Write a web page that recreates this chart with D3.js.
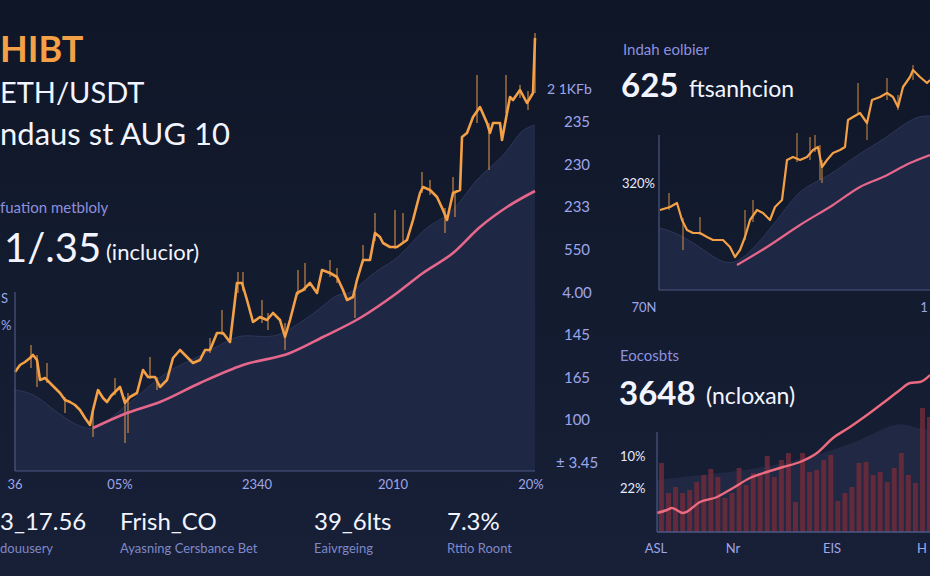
<!DOCTYPE html>
<html><head><meta charset="utf-8">
<script src="https://cdn.jsdelivr.net/npm/d3@7/dist/d3.min.js"></script>
<style>html,body{margin:0;padding:0;background:#121a2d;overflow:hidden}svg{display:block}</style>
</head><body>
<script>
// ---------- DATA ----------
// Main chart (ETH/USDT) – time index vs price units
const mainDays  = [0,5,10,15,18,22,25,30,35,40,45,50,55,60,65,70,75,78,83,88,92,96,100,105,110,115,122,128,133,140,145,152,158,165,172,178,185,190,195,202,208,215,220,222,227,232,238,245,252,258,265,270,275,282,288,295,302,307,315,322,328,332,338,342,348,355,360,365,368,375,382,392,398,405,408,415,422,428,432,438,445,447,452,458,465,472,475,478,485,487,492,495,498,505,512,518,520];
const mainClose = [91,98,101,105,108,103,83,85,80,75,70,63,61,58,53,45,38,53,73,65,61,67,71,76,60,66,70,93,86,86,76,83,105,113,106,100,103,113,113,130,130,121,163,180,180,163,141,146,143,150,143,126,143,170,173,180,170,193,190,186,173,163,166,183,203,203,230,226,220,216,216,223,243,270,276,273,266,253,243,270,273,326,330,346,356,340,330,340,340,323,350,366,363,373,360,370,425];
const mainWicks = [[16,118,95],[22,108,76],[32,100,80],[50,66,50],[78,55,26],[100,85,68],[110,66,20],[113,70,30],[135,106,84],[142,86,73],[195,125,110],[207,153,128],[223,191,170],[228,191,172],[247,163,140],[253,150,133],[270,140,113],[283,193,168],[290,200,172],[315,203,186],[322,195,180],[340,170,145],[348,218,200],[360,250,222],[380,253,214],[388,250,220],[407,291,270],[415,283,268],[430,255,230],[438,286,266],[440,270,246],[462,388,340],[474,340,293],[491,388,350],[505,378,365],[513,372,353],[520,430,370]];
const mainBandDays = [0,18,35,52,72,85,105,125,152,185,218,232,258,275,308,322,335,348,365,382,405,418,438,458,472,492,505,520];
const mainBand     = [73,70,56,43,33,35,53,68,93,106,126,128,125,133,156,170,168,181,195,203,230,240,250,280,293,310,333,338];
const mainMADays = [78,112,145,185,228,275,308,345,382,408,438,465,492,520];
const mainMA     = [35,50,61,80,98,110,126,145,170,190,210,236,256,272];
const mainTickDays   = [0,105,242,378,516];
const mainTickLabels = ["36","05%","2340","2010","20%"];
const rightAxisLabels = ["235","230","233","550","4.00","145","165","100","± 3.45"];
const priceTag = "2 1KFb";

// Top-right chart
const trDays  = [1,11,18,23,28,34,41,48,54,64,71,76,81,86,91,98,104,111,116,123,128,134,141,148,154,159,163,168,174,181,186,189,194,201,208,213,221,228,234,239,244,251,254,261,268,271];
const trClose = [80,83,87,70,60,57,57,53,50,50,43,33,40,53,70,80,77,70,83,90,130,133,130,133,140,143,123,130,137,140,143,170,173,177,167,190,193,197,193,183,203,213,220,213,207,210];
const trWicks = [[10,97,80],[24,72,40],[41,73,55],[86,80,50],[94,90,68],[138,157,128],[151,153,130],[156,155,138],[161,145,110],[163,130,107],[199,207,175],[208,170,150],[228,212,190],[239,195,180],[254,225,210]];
const trBandDays = [1,18,41,58,78,108,128,141,161,174,201,224,241,258,271];
const trBand     = [62,57,43,30,23,57,83,100,110,117,137,150,163,174,174];
const trMADays = [78,108,141,174,201,224,251,271];
const trMA     = [25,43,65,85,103,113,127,135];
const trYLabel = "320%";
const trXLabels = ["70N","1"];

// Bottom-right chart
const brBars = [69,39,45,39,42,50,57,63,55,34,39,64,47,59,59,76,55,72,79,30,79,60,62,72,77,31,39,45,69,70,57,60,50,64,79,57,49,124,115];
const brLineDays = [0,10,15,26,43,60,76,93,110,126,143,160,176,193,210,226,243,253,263,273];
const brLine     = [19,22,24,19,30,35,44,54,60,65,70,79,94,105,117,129,142,149,150,157];
const brShadeDays = [0,43,93,143,193,223,243,258,273];
const brShade     = [52,57,62,72,87,102,110,104,102];
const brYLabels = ["10%","22%"];
const brXLabels = ["ASL","Nr","EIS","H"];

// Text blocks
const stats = [["3_17.56","douusery"],["Frish_CO","Ayasning Cersbance Bet"],["39_6lts","Eaivrgeing"],["7.3%","Rttio Roont"]];

// ---------- DRAW ----------
const W=930,H=576;
const svg=d3.select("body").append("svg").attr("width",W).attr("height",H);
const defs=svg.append("defs");
const bg=defs.append("linearGradient").attr("id","bg").attr("x1",0).attr("y1",0).attr("x2",0).attr("y2",1);
bg.append("stop").attr("offset","0%").attr("stop-color","#0f1627");
bg.append("stop").attr("offset","100%").attr("stop-color","#172037");
svg.append("rect").attr("width",W).attr("height",H).attr("fill","url(#bg)");

const FONT="Lato, 'Open Sans', sans-serif";
const ORANGE="#f4a047", PINK="#e6678c", LAV="#8d90df", TICK="#9ea6ea", AXIS="#4d5784", SHADE="#1e2743";

function text(x,y,s,o){
  const t=svg.append("text").attr("x",x).attr("y",y).text(s)
   .attr("font-family",FONT).attr("font-size",o.size).attr("fill",o.fill||"#f2f4ff")
   .attr("font-weight",o.weight||400);
  if(o.anchor) t.attr("text-anchor",o.anchor);
  return t;
}

// ===== Main chart =====
const mx=d3.scaleLinear().domain([0,520]).range([15,535]);
const my=d3.scaleLinear().domain([0,430]).range([463,33]);
const mBase=471;
const mg=svg.append("g");
const bandPts=mainBandDays.map((d,i)=>[d,mainBand[i]]);
mg.append("path").datum(bandPts)
 .attr("d",d3.area().x(d=>mx(d[0])).y0(mBase).y1(d=>my(d[1])).curve(d3.curveBasis))
 .attr("fill",SHADE);
mg.append("path").datum(bandPts)
 .attr("d",d3.line().x(d=>mx(d[0])).y(d=>my(d[1])).curve(d3.curveBasis))
 .attr("fill","none").attr("stroke","#323c60").attr("stroke-width",0.8);
mg.selectAll(".mw").data(mainWicks).enter().append("line")
 .attr("x1",d=>mx(d[0])).attr("x2",d=>mx(d[0])).attr("y1",d=>my(d[1])).attr("y2",d=>my(d[2]))
 .attr("stroke","#e69a4c").attr("stroke-width",1.2).attr("opacity",0.85);
mg.append("path").datum(mainDays.map((d,i)=>[d,mainClose[i]]))
 .attr("d",d3.line().x(d=>mx(d[0])).y(d=>my(d[1])))
 .attr("fill","none").attr("stroke",ORANGE).attr("stroke-width",2.6).attr("stroke-linejoin","round");
mg.append("path").datum(mainMADays.map((d,i)=>[d,mainMA[i]]))
 .attr("d",d3.line().x(d=>mx(d[0])).y(d=>my(d[1])).curve(d3.curveMonotoneX))
 .attr("fill","none").attr("stroke",PINK).attr("stroke-width",2.6);
mg.append("line").attr("x1",15).attr("x2",15).attr("y1",292).attr("y2",mBase).attr("stroke",AXIS).attr("stroke-width",1.2);
mg.append("line").attr("x1",15).attr("x2",535).attr("y1",mBase).attr("y2",mBase).attr("stroke",AXIS).attr("stroke-width",1.2);
mainTickDays.forEach((d,i)=>text(mx(d),489,mainTickLabels[i],{size:13,fill:TICK,anchor:"middle"}));
const ry=d3.scalePoint().domain(rightAxisLabels).range([122,463]);
rightAxisLabels.forEach(l=>text(577,ry(l)+5,l,{size:15,fill:TICK,anchor:"middle"}));
text(547,my(mainClose[mainClose.length-2])+1,priceTag,{size:14,fill:TICK});
text(1,303,"S",{size:13,fill:TICK});
text(1,330,"%",{size:13,fill:TICK});

// ===== Top-right chart =====
const tx=d3.scaleLinear().domain([0,271]).range([659,930]);
const ty=d3.scaleLinear().domain([0,155]).range([290,135]);
const tg=svg.append("g");
const trBandPts=trBandDays.map((d,i)=>[d,trBand[i]]);
tg.append("path").datum(trBandPts)
 .attr("d",d3.area().x(d=>tx(d[0])).y0(290).y1(d=>ty(d[1])).curve(d3.curveBasis)).attr("fill",SHADE);
tg.append("path").datum(trBandPts)
 .attr("d",d3.line().x(d=>tx(d[0])).y(d=>ty(d[1])).curve(d3.curveBasis))
 .attr("fill","none").attr("stroke","#323c60").attr("stroke-width",0.8);
tg.selectAll(".tw").data(trWicks).enter().append("line")
 .attr("x1",d=>tx(d[0])).attr("x2",d=>tx(d[0])).attr("y1",d=>ty(d[1])).attr("y2",d=>ty(d[2]))
 .attr("stroke","#e69a4c").attr("stroke-width",1.1).attr("opacity",0.85);
tg.append("path").datum(trDays.map((d,i)=>[d,trClose[i]]))
 .attr("d",d3.line().x(d=>tx(d[0])).y(d=>ty(d[1])))
 .attr("fill","none").attr("stroke",ORANGE).attr("stroke-width",2.2).attr("stroke-linejoin","round");
tg.append("path").datum(trMADays.map((d,i)=>[d,trMA[i]]))
 .attr("d",d3.line().x(d=>tx(d[0])).y(d=>ty(d[1])).curve(d3.curveMonotoneX))
 .attr("fill","none").attr("stroke",PINK).attr("stroke-width",2.2);
tg.append("line").attr("x1",659).attr("x2",659).attr("y1",135).attr("y2",290).attr("stroke",AXIS).attr("stroke-width",1.2);
tg.append("line").attr("x1",659).attr("x2",930).attr("y1",290).attr("y2",290).attr("stroke",AXIS).attr("stroke-width",1.2);
text(622,188,trYLabel,{size:13,fill:"#e8eaff"});
text(644,312,trXLabels[0],{size:13,fill:TICK,anchor:"middle"});
text(924,312,trXLabels[1],{size:13,fill:TICK,anchor:"middle"});

// ===== Bottom-right chart =====
const bx=d3.scaleBand().domain(d3.range(brBars.length)).range([659,932]).paddingInner(0.3);
const by=d3.scaleLinear().domain([0,100]).range([532,432]);
const lx=d3.scaleLinear().domain([0,273]).range([657,930]);
const bgp=svg.append("g");
bgp.append("path").datum(brShadeDays.map((d,i)=>[d,brShade[i]]))
 .attr("d",d3.area().x(d=>lx(d[0])).y0(532).y1(d=>by(d[1])).curve(d3.curveBasis))
 .attr("fill","#2a3150").attr("opacity",0.55);
bgp.selectAll(".bar").data(brBars).enter().append("rect")
 .attr("x",(d,i)=>bx(i)).attr("width",bx.bandwidth())
 .attr("y",d=>by(d)).attr("height",d=>532-by(d))
 .attr("fill","#6c2a3b").attr("opacity",0.88);
bgp.append("path").datum(brLineDays.map((d,i)=>[d,brLine[i]]))
 .attr("d",d3.line().x(d=>lx(d[0])).y(d=>by(d[1])).curve(d3.curveMonotoneX))
 .attr("fill","none").attr("stroke","#ec6b7f").attr("stroke-width",2.4);
bgp.append("line").attr("x1",657).attr("x2",657).attr("y1",432).attr("y2",532).attr("stroke",AXIS).attr("stroke-width",1.2);
bgp.append("line").attr("x1",657).attr("x2",930).attr("y1",532).attr("y2",532).attr("stroke",AXIS).attr("stroke-width",1.5);
text(620,461,brYLabels[0],{size:13,fill:"#e8eaff"});
text(620,493,brYLabels[1],{size:13,fill:"#e8eaff"});
const bxl=[656,733,832,922];
brXLabels.forEach((l,i)=>text(bxl[i],553,l,{size:13,fill:TICK,anchor:"middle"}));

// ===== Texts =====
text(0,62,"HIBT",{size:36,weight:700,fill:ORANGE});
text(0,103,"ETH/USDT",{size:29});
text(0,145,"ndaus st AUG 10",{size:31});
text(0,213,"fuation metbloly",{size:15,fill:LAV});
text(4,262,"1/.35",{size:40});
text(106,260,"(inclucior)",{size:22});

text(623,55,"Indah eolbier",{size:15,fill:LAV});
text(621,97,"625",{size:33,weight:700});
text(689,97,"ftsanhcion",{size:23});

text(620,361,"Eocosbts",{size:15,fill:LAV});
text(619,405,"3648",{size:33,weight:700});
text(706,404,"(ncloxan)",{size:23});

const sx=[0,120,314,447];
stats.forEach((s,i)=>{
  text(sx[i],530,s[0],{size:24});
  text(sx[i],553,s[1],{size:13,fill:"#7f88c8"});
});
</script>
</body></html>
